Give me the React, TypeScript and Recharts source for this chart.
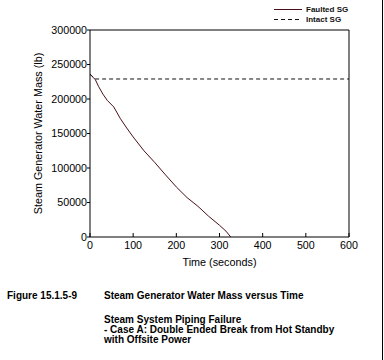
import { Line, LineChart, ReferenceLine, XAxis, YAxis } from "recharts";

// time (s) vs water mass (lb)
const faultedTimes = [0, 5, 12, 20, 30, 40, 55, 70, 85, 100, 125, 150, 175, 200, 225, 250, 275, 300, 315, 326];
const faultedMass = [
  236000, 232500, 228500, 218000, 207000, 198000, 188500, 172000, 158000, 145000,
  125000, 108000, 90000, 72500, 57000, 44500, 30000, 17000, 8500, 0,
];
const intactTimes = [0, 12, 600];
const intactMass = [236000, 229000, 229000];

const xTicks = [0, 100, 200, 300, 400, 500, 600];
const yTicks = [0, 50000, 100000, 150000, 200000, 250000, 300000];

const seriesNames = ["Faulted SG", "Intact SG"];
const captionLines = [
  "Steam System Piping Failure",
  "- Case A: Double Ended Break from Hot Standby",
  "with Offsite Power",
];

const faultedData = faultedTimes.map((t, i) => ({ t, mass: faultedMass[i] }));
const intactData = intactTimes.map((t, i) => ({ t, mass: intactMass[i] }));

const FONT = '"Liberation Sans", Arial, sans-serif';
const FAULTED_COLOR = "#4a1018";
const INTACT_COLOR = "#111";

function XTick(props: any) {
  const { x, y, payload } = props;
  return (
    <g>
      <line x1={x} x2={x} y1={y - 4} y2={y} stroke="#000" />
      <text x={x} y={y + 12} textAnchor="middle" fontSize={10.7} fill="#000" fontFamily={FONT}>
        {payload.value}
      </text>
    </g>
  );
}

function LegendBox() {
  const dashes = [undefined, "4 3"];
  const colors = [FAULTED_COLOR, INTACT_COLOR];
  return (
    <div
      style={{
        position: "absolute",
        left: 274,
        top: 5,
        fontFamily: FONT,
        fontSize: 8,
        fontWeight: "bold",
        color: "#111",
      }}
    >
      {seriesNames.map((name, i) => (
        <div key={name} style={{ display: "flex", alignItems: "center", height: 9.5 }}>
          <svg width={28} height={9} style={{ display: "block" }}>
            <line x1={0} x2={28} y1={4.5} y2={4.5} stroke={colors[i]} strokeDasharray={dashes[i]} />
          </svg>
          <span style={{ marginLeft: 4 }}>{name}</span>
        </div>
      ))}
    </div>
  );
}

const captionStyle = {
  position: "absolute" as const,
  top: 291,
  fontFamily: FONT,
  fontSize: 10,
  fontWeight: "bold" as const,
  color: "#000",
  lineHeight: "10px",
  whiteSpace: "nowrap" as const,
};

export default function App() {
  return (
    <div style={{ position: "absolute", left: 0, top: 0, width: 384, height: 360, background: "#fff" }}>
      <LineChart width={384} height={275} margin={{ top: 30, right: 35, left: 0, bottom: 0 }}>
        <XAxis
          dataKey="t"
          type="number"
          domain={[0, 600]}
          ticks={xTicks}
          tickLine={false}
          tickSize={0}
          tickMargin={0}
          tick={<XTick />}
          height={38}
          axisLine={{ stroke: "#000" }}
          allowDataOverflow
          label={{
            content: (p: any) => {
              const vb = p.viewBox;
              return (
                <text
                  x={vb.x + vb.width / 2}
                  y={vb.y + 29}
                  textAnchor="middle"
                  fontSize={10.8}
                  fill="#000"
                  fontFamily={FONT}
                >
                  Time (seconds)
                </text>
              );
            },
          }}
        />
        <YAxis
          type="number"
          domain={[0, 300000]}
          ticks={yTicks}
          width={90}
          tickSize={3}
          tickMargin={0}
          tickLine={{ stroke: "#000" }}
          axisLine={{ stroke: "#000" }}
          tick={{ fontSize: 10.7, fill: "#000", fontFamily: FONT }}
          allowDataOverflow
          label={{
            content: (p: any) => {
              const vb = p.viewBox;
              const cx = vb.x + 38;
              const cy = vb.y + vb.height / 2;
              return (
                <text
                  x={cx}
                  y={cy}
                  transform={`rotate(-90, ${cx}, ${cy})`}
                  textAnchor="middle"
                  dominantBaseline="central"
                  fontSize={10.8}
                  fill="#000"
                  fontFamily={FONT}
                >
                  Steam Generator Water Mass (lb)
                </text>
              );
            },
          }}
        />
        <ReferenceLine y={300000} stroke="#000" />
        <ReferenceLine x={600} stroke="#000" />
        <Line
          data={intactData}
          dataKey="mass"
          name={seriesNames[1]}
          type="linear"
          stroke={INTACT_COLOR}
          strokeWidth={1}
          strokeDasharray="4 3"
          dot={false}
          isAnimationActive={false}
        />
        <Line
          data={faultedData}
          dataKey="mass"
          name={seriesNames[0]}
          type="linear"
          stroke={FAULTED_COLOR}
          strokeWidth={1}
          dot={false}
          isAnimationActive={false}
        />
      </LineChart>
      <LegendBox />
      <div style={{ ...captionStyle, left: 7 }}>Figure 15.1.5-9</div>
      <div style={{ ...captionStyle, left: 104 }}>
        <div>Steam Generator Water Mass versus Time</div>
        <div style={{ marginTop: 14 }}>
          {captionLines.map((l) => (
            <div key={l}>{l}</div>
          ))}
        </div>
      </div>
      <div style={{ position: "absolute", left: 382, top: 0, width: 1, height: 360, background: "#000" }} />
    </div>
  );
}
